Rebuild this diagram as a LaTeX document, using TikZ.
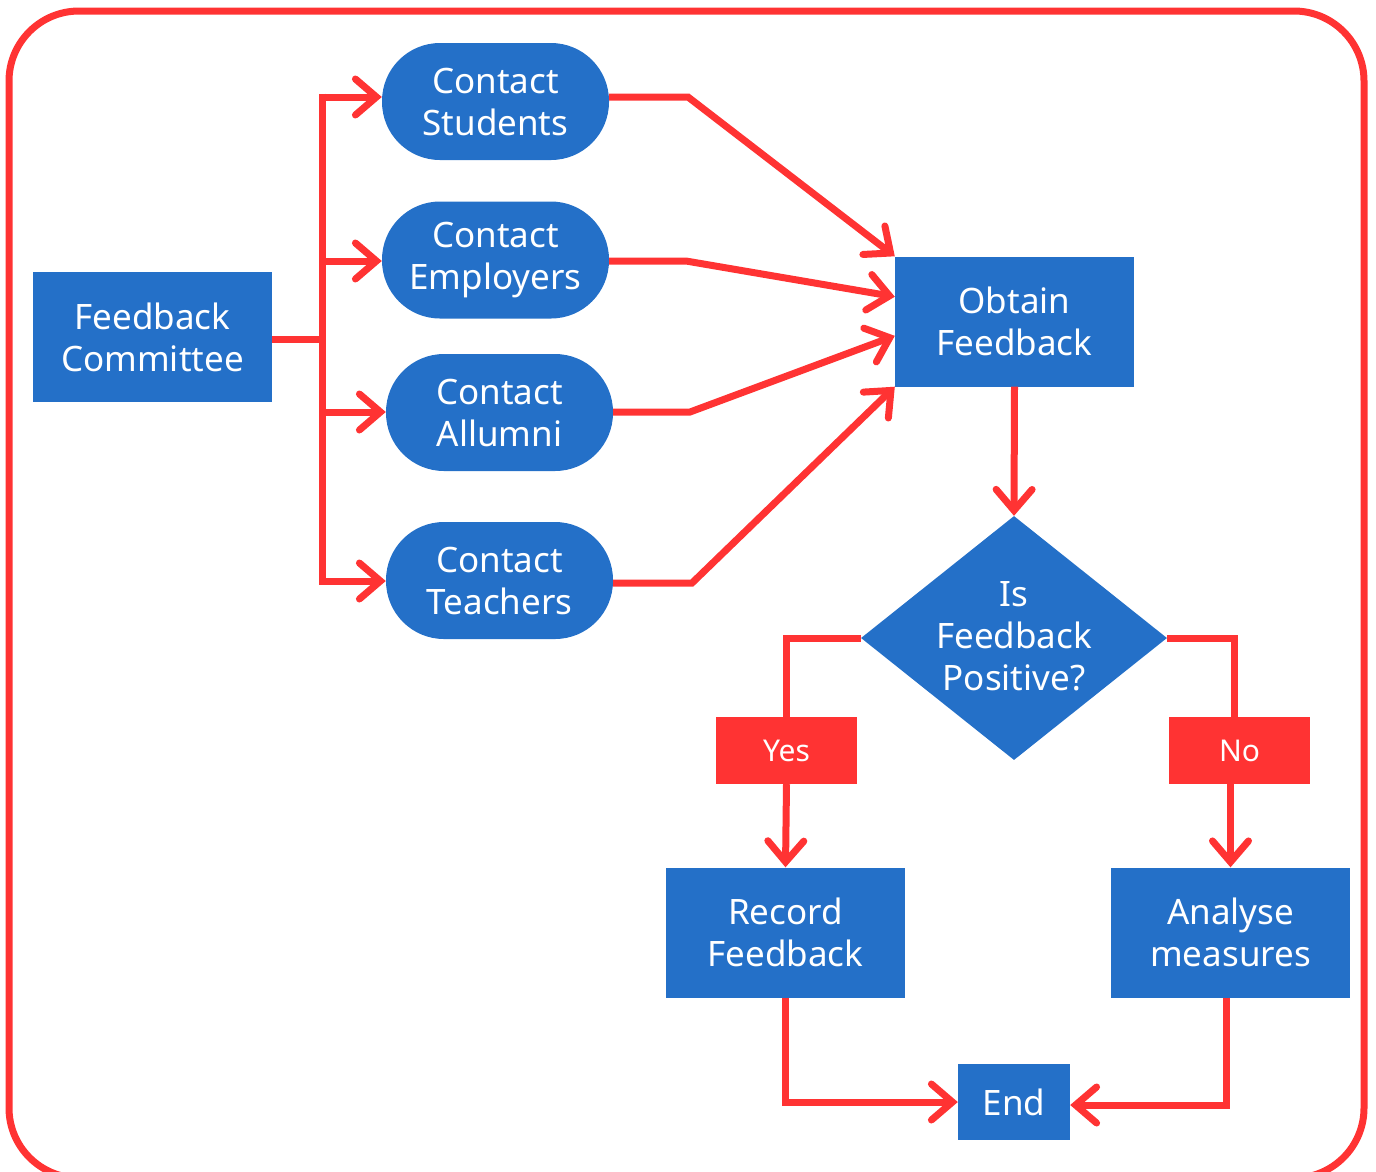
\documentclass[tikz,border=0pt]{standalone}
\usepackage{fontspec}
\setmainfont{Noto Sans}
\usetikzlibrary{arrows.meta,shapes.geometric,calc}
\definecolor{fblue}{HTML}{2470C8}
\definecolor{fred}{HTML}{FF3333}
\begin{document}
\begin{tikzpicture}[x=1pt,y=-1pt,
 box/.style={fill=fblue, text=white, align=center, font=\fontsize{35}{42}\selectfont, inner sep=0pt},
 rbox/.style={box, rectangle, minimum width=239pt, minimum height=130pt},
 pill/.style={box, rectangle, rounded corners=58pt, minimum width=227pt, minimum height=117pt},
 tag/.style={fill=fred, text=white, font=\fontsize{30}{34}\selectfont, minimum width=141pt, minimum height=67pt, inner sep=0pt},
 conn/.style={draw=fred, line width=7pt},
 arr/.style={conn, -{Straight Barb[length=21pt,width=36pt,line cap=round]}},
]
\useasboundingbox (0,0) rectangle (1376,1171);
\draw[fred, line width=7pt, rounded corners=70pt] (9,11) rectangle (1364,1178);

\node[rbox] (fc) at (152.5,337) {Feedback\\Committee};
\node[pill] (cs) at (495.5,101.5) {Contact\\Students};
\node[pill] (ce) at (495.5,260) {Contact\\Employers};
\node[pill] (ca) at (499.5,412.5) {Contact\\Allumni};
\node[pill] (ct) at (499.5,580.5) {Contact\\Teachers};
\node[rbox] (of) at (1014.5,321.5) {Obtain\\Feedback};
\node[diamond, fill=fblue, minimum width=306pt, minimum height=244pt, inner sep=0pt] (dec) at (1014,638) {};
\node[box, fill=none] (dect) at (1014,636) {Is\\Feedback\\Positive?};
\node[tag] (yes) at (786.5,750.5) {Yes};
\node[tag] (no) at (1239.5,750.5) {No};
\node[rbox] (rf) at (785.5,932.5) {Record\\Feedback};
\node[rbox] (am) at (1230.5,932.5) {Analyse\\measures};
\node[box, minimum width=112pt, minimum height=76pt] (end) at (1014,1102) {End};

% trunk from committee
\coordinate (tr) at (322,339);
\coordinate (t1) at (322,97);
\coordinate (t2) at (322,261);
\coordinate (t3) at (322,412);
\coordinate (t4) at (322,581);
\draw[conn] (fc.east |- tr) -- (tr);
\draw[conn] ([yshift=3.5pt]t1) -- ([yshift=-3.5pt]t4);
\draw[arr] (t1) -- (cs.west |- t1);
\draw[arr] (t2) -- (ce.west |- t2);
\draw[arr] (t3) -- (ca.west |- t3);
\draw[arr] (t4) -- (ct.west |- t4);

% contacts to obtain feedback
\coordinate (b1) at (688,97);
\coordinate (b2) at (686,261);
\coordinate (b3) at (690,412);
\coordinate (b4) at (692,583);
\draw[arr] (cs.east |- b1) -- (b1) -- (of.north west);
\draw[arr] (ce.east |- b2) -- (b2) -- ($(of.north west)!0.31!(of.south west)$);
\draw[arr] (ca.east |- b3) -- (b3) -- ($(of.north west)!0.61!(of.south west)$);
\draw[arr] (ct.east |- b4) -- (b4) -- (of.south west);

% decision
\draw[arr] (of.south) -- (dec.north);
\draw[conn] (dec.west) -| (yes.north);
\draw[conn] (dec.east) -| ([xshift=-5pt]no.north);
\draw[arr] (yes.south) -- (rf.north);
\draw[arr] (no.south -| am.north) -- (am.north);

% to end
\draw[arr] (rf.south) |- (end.west);
\draw[arr] ([xshift=-4pt]am.south) |- ([yshift=-3pt]end.east);
\end{tikzpicture}
\end{document}
